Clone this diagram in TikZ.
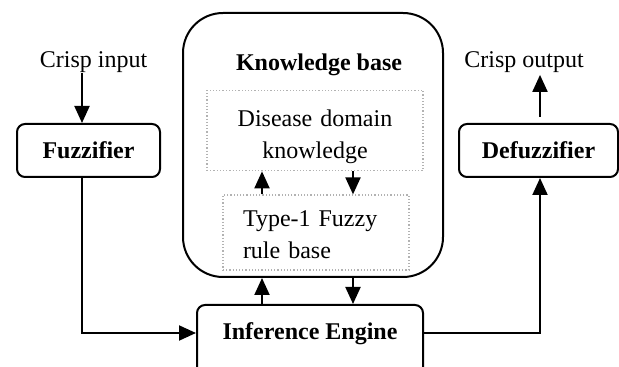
\documentclass[tikz,border=0pt]{standalone}
\usepackage{fontspec}
\setmainfont{Liberation Serif}
\usetikzlibrary{arrows.meta,positioning}

\begin{document}
\begin{tikzpicture}[
  x=0.5pt,y=-0.5pt,
  font=\fontsize{12}{16}\selectfont,
  >={Triangle[width=7.5pt,length=8.5pt]},
  block/.style={draw,line width=1pt,rounded corners=4pt,font=\fontsize{12}{16}\selectfont\bfseries},
  base/.style={draw,line width=1pt,rounded corners=20pt},
  inbox/.style={draw=gray!60,densely dotted,line width=0.6pt,inner xsep=10pt},
  lbl/.style={inner sep=0pt},
  arrow/.style={->,line width=1pt}
]
\useasboundingbox (0,0) rectangle (619,367);

\node[base,minimum width=130pt,minimum height=132pt] (kb) at (313,145) {};
\node[lbl,font=\fontsize{12}{16}\selectfont\bfseries] (kbtitle) at (319,65) {Knowledge base};

\node[inbox,minimum width=108pt,minimum height=36.5pt,text width=88pt,align=center] (domain) at (315,130.5) {\rule{0pt}{15pt}Disease domain\\knowledge};
\node[inbox,minimum width=93pt,minimum height=37.5pt,text width=73pt,align=left] (rules) at (316,232.5) {\rule{0pt}{10pt}Type-1 Fuzzy\\rule base};

\node[block,minimum width=71.5pt,minimum height=26.5pt] (fuzz) at (88.5,150.5) {Fuzzifier};
\node[block,minimum width=79.5pt,minimum height=26.5pt] (defuzz) at (538.5,150.5) {Defuzzifier};
\node[block,minimum width=113pt,minimum height=35pt,text depth=9pt] (infer) at (310,340) {Inference Engine};

\node[lbl] (input) at (93.5,62) {Crisp input};
\node[lbl] (output) at (524,62) {Crisp output};

% x positions of the vertical connectors
\coordinate (leftx) at (82,0);
\coordinate (rightx) at (540,0);
\coordinate (upx) at (262,0);
\coordinate (downx) at (353,0);

\draw[arrow] (input.south -| leftx) -- (fuzz.north -| leftx);
\draw[arrow] (fuzz.south -| leftx) |- ([yshift=3.5pt]infer.west);
\draw[arrow] ([yshift=3.5pt]infer.east) -| (defuzz.south -| rightx);
\draw[arrow,shorten <=3pt,shorten >=1pt] (defuzz.north -| rightx) -- (output.south -| rightx);

\draw[arrow] (infer.north -| upx) -- (kb.south -| upx);
\draw[arrow] (kb.south -| downx) -- (infer.north -| downx);

\draw[arrow] (rules.north -| upx) -- (domain.south -| upx);
\draw[arrow] (domain.south -| downx) -- (rules.north -| downx);

\end{tikzpicture}
\end{document}
